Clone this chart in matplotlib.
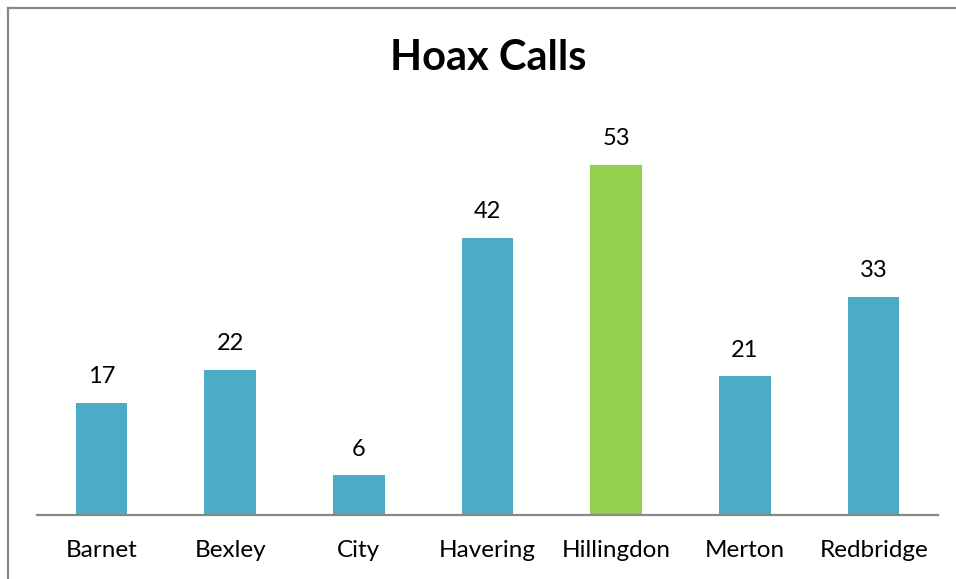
import matplotlib
matplotlib.use("Agg")
import matplotlib.pyplot as plt
from matplotlib.lines import Line2D

boroughs = ["Barnet", "Bexley", "City", "Havering", "Hillingdon", "Merton", "Redbridge"]
hoax_calls = [17, 22, 6, 42, 53, 21, 33]
highlight = "Hillingdon"

BLUE = "#4BACC6"
GREEN = "#92D050"
GREY = "#888888"

plt.rcParams["font.family"] = ["Lato", "DejaVu Sans"]

W, H = 956, 579
fig = plt.figure(figsize=(W / 100, H / 100), dpi=100)
fig.patch.set_facecolor("white")

ax = fig.add_axes([37 / W, (H - 515) / H, (938 - 37) / W, (515 - 119) / H])
colors = [GREEN if b == highlight else BLUE for b in boroughs]
x = list(range(len(boroughs)))
bars = ax.bar(x, hoax_calls, width=0.4, color=colors)
ax.set_xlim(-0.5, len(boroughs) - 0.5)
ax.set_ylim(0, 60)

for rect, v in zip(bars, hoax_calls):
    ax.annotate(str(v), (rect.get_x() + rect.get_width() / 2, v),
                xytext=(0, 19), textcoords="offset points",
                ha="center", va="center", fontsize=17, color="black")

ax.set_xticks(x)
ax.set_xticklabels(boroughs, fontsize=17.5)
ax.tick_params(axis="x", length=0, pad=18)
ax.set_yticks([])
for s in ("top", "right", "left"):
    ax.spines[s].set_visible(False)
ax.spines["bottom"].set_color(GREY)
ax.spines["bottom"].set_linewidth(1.6)

fig.text(488 / W, 1 - 58 / H, "Hoax Calls", ha="center", va="center",
         fontsize=30, fontweight="bold", color="black")

# chart frame (top and left edges)
fig.add_artist(Line2D([7.5 / W, 1.0], [1 - 7.5 / H, 1 - 7.5 / H],
                      transform=fig.transFigure, color=GREY, linewidth=1.6))
fig.add_artist(Line2D([7.5 / W, 7.5 / W], [0.0, 1 - 7.5 / H],
                      transform=fig.transFigure, color=GREY, linewidth=1.6))

fig.savefig("out.png", dpi=100)
